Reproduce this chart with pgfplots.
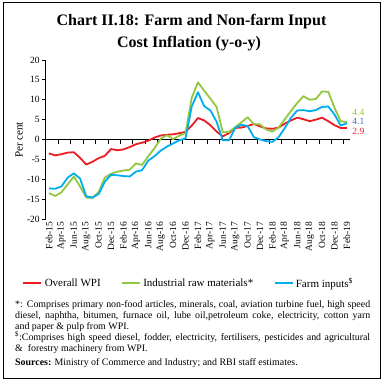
\documentclass[border=0pt]{standalone}
\usepackage{pgfplots}
\pgfplotsset{compat=1.18}
\usepackage{pgfplotstable}
\usepackage{fontspec}
\setmainfont{Liberation Serif}
\definecolor{wpired}{HTML}{ED1C24}
\definecolor{irmgreen}{HTML}{92C83E}
\definecolor{farmblue}{HTML}{00AEEF}
\definecolor{lblblue}{HTML}{3A6FC4}

\pgfplotstableread{
i  wpi   irm    farm
0  -3.5  -13.5  -12.3
1  -4.0  -14.2  -12.4
2  -3.7  -13.3  -11.8
3  -3.3  -11.3  -9.6
4  -3.2  -9.3   -8.5
5  -4.6  -11.8  -9.8
6  -6.3  -14.6  -14.3
7  -5.6  -14.7  -14.6
8  -4.7  -13.2  -13.7
9  -4.1  -9.6   -10.6
10 -2.4  -8.6   -8.9
11 -2.7  -8.1   -9.0
12 -2.5  -7.8   -9.2
13 -1.9  -7.6   -9.3
14 -1.2  -6.0   -8.1
15 -0.8  -6.4   -7.7
16 -0.3  -4.2   -5.3
17  0.5  -2.2   -4.2
18  1.0   0.2   -2.8
19  1.2   1.1   -1.8
20  1.3   0.1   -1.0
21  1.6   1.0   -0.2
22  1.9   1.6    0.3
23  3.5  10.5    8.3
24  5.4  14.4   11.9
25  4.8  12.3    8.4
26  3.6  10.3    7.3
27  2.0   8.2    4.5
28  0.8   1.8   -0.2
29  1.6   1.9   -0.2
30  2.9   3.1    2.9
31  3.0   4.3    3.7
32  3.4   5.6    3.4
33  3.9   3.9    0.6
34  3.3   3.8    0.0
35  2.8   2.5   -0.4
36  2.7   2.0   -0.6
37  3.0   3.0    0.6
38  4.0   5.1    2.9
39  4.8   7.2    5.5
40  5.5   9.2    7.3
41  5.1  10.9    7.4
42  4.6  10.0    7.1
43  5.0  10.2    7.4
44  5.5  12.1    8.2
45  4.6  12.0    8.3
46  3.6   8.0    6.3
47  2.9   4.6    3.5
48  2.9   4.4    4.1
}\data

\begin{document}
\begin{tikzpicture}[x=1pt,y=1pt]
\useasboundingbox (0,0) rectangle (384,384);
\fill[white] (0,0) rectangle (384,384);
\draw[line width=0.9pt] (3.5,6) rectangle (380.5,382);

% title
\node[anchor=base, font=\bfseries\fontsize{16}{21}\selectfont, inner sep=0pt] at (191.5,358) {Chart II.18: Farm and Non-farm Input};
\node[anchor=base, font=\bfseries\fontsize{16}{21}\selectfont, inner sep=0pt] at (189,336.7) {Cost Inflation (y-o-y)};

% y label
\node[rotate=90, font=\fontsize{11}{12}\selectfont, inner sep=0pt] at (19,244) {Per cent};

\begin{axis}[
  at={(45.9pt,165pt)}, anchor=south west,
  scale only axis, width=304.1pt, height=159pt,
  xmin=-0.5, xmax=48.5, ymin=-20, ymax=20,
  clip=false,
  axis y line*=left, axis x line*=middle,
  axis line style={-, line width=0.8pt, black},
  xtick={-0.5,1.5,...,47.5}, xticklabels={},
  ytick={-20,-15,...,20},
  tick align=outside, major tick length=4pt,
  tick style={black, line width=0.8pt},
  /pgf/number format/assume math mode=true,
  yticklabel style={font=\fontsize{9.5}{10}\selectfont, inner sep=2pt},
  legend columns=3,
  legend cell align=left,
  legend style={at={(axis description cs:-0.0786,-0.4025)}, anchor=west, draw=none, fill=none,
    inner sep=0pt, font=\fontsize{11}{12}\selectfont,
    /tikz/every even column/.append style={column sep=18pt}},
  legend image code/.code={\draw[#1, line width=2.6pt] (0pt,0pt) -- (18pt,0pt);},
]
\addplot[wpired, line width=1.8pt, line join=round] table[x=i,y=wpi]{\data};
\addlegendentry{Overall WPI}
\addplot[irmgreen, line width=1.8pt, line join=round] table[x=i,y=irm]{\data};
\addlegendentry{Industrial raw materials*}
\addplot[farmblue, line width=1.8pt, line join=round] table[x=i,y=farm]{\data};
\addlegendentry{Farm inputs\textsuperscript{\$}}
\node[anchor=west, text=irmgreen, font=\fontsize{9.5}{10}\selectfont, inner sep=1pt] at (axis cs:48.7,6.8) {4.4};
\node[anchor=west, text=lblblue, font=\fontsize{9.5}{10}\selectfont, inner sep=1pt] at (axis cs:48.7,4.5) {4.1};
\node[anchor=west, text=wpired, font=\fontsize{9.5}{10}\selectfont, inner sep=1pt] at (axis cs:48.7,2.0) {2.9};
\end{axis}

\begin{axis}[
  at={(45.9pt,165pt)}, anchor=south west,
  scale only axis, width=304.1pt, height=159pt,
  xmin=-0.5, xmax=48.5, ymin=-20, ymax=20,
  axis x line*=bottom, hide y axis,
  x axis line style={draw=none},
  xtick={0,2,...,48},
  xticklabels={Feb-15,Apr-15,Jun-15,Aug-15,Oct-15,Dec-15,Feb-16,Apr-16,Jun-16,Aug-16,Oct-16,Dec-16,Feb-17,Apr-17,Jun-17,Aug-17,Oct-17,Dec-17,Feb-18,Apr-18,Jun-18,Aug-18,Oct-18,Dec-18,Feb-19},
  major tick length=0pt, tick style={draw=none},
  xticklabel style={rotate=90, anchor=east, font=\fontsize{9.5}{10}\selectfont, inner sep=3pt},
]
\addplot[draw=none] coordinates {(0,0)};
\end{axis}

% notes
\node[anchor=north west, inner sep=0pt, text width=355pt, align=justify, font=\fontsize{9.9}{11}\selectfont] at (15,84) {*: Comprises primary non-food articles, minerals, coal, aviation turbine fuel, high speed\linebreak diesel, naphtha, bitumen, furnace oil, lube oil,petroleum coke, electricity, cotton yarn\linebreak and paper \& pulp from WPI.\\
\textsuperscript{\$}:Comprises high speed diesel, fodder, electricity, fertilisers, pesticides and agricultural\linebreak \&~ forestry machinery from WPI.\\[3.5pt]
\textbf{Sources:} Ministry of Commerce and Industry; and RBI staff estimates.};
\end{tikzpicture}
\end{document}
